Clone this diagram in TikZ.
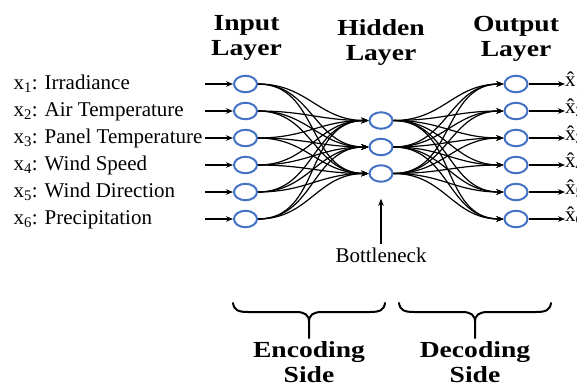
\documentclass[tikz,border=0pt]{standalone}
\usepackage{fontspec}
\setmainfont{Liberation Serif}
\newfontfamily\headfont{Liberation Serif}[FakeStretch=1.2]
\usepackage{tikz}
\usetikzlibrary{shapes.geometric,arrows.meta}
\definecolor{nodeblue}{RGB}{68,114,196}

\begin{document}
\begin{tikzpicture}[x=1pt,y=-1pt,
    neuron/.style={ellipse,draw=nodeblue,line width=2pt,minimum width=23pt,minimum height=16.5pt,inner sep=0pt},
    link/.style={line width=1.2pt,-{Stealth[length=7pt,width=5.5pt]}},
    head/.style={anchor=base,align=center,font=\headfont\bfseries\fontsize{23}{25}\selectfont},
    txt/.style={font=\fontsize{21}{24}\selectfont}]
    \useasboundingbox (0,0) rectangle (577,384);

    \foreach \y [count=\i] in {84,111,138,165,192,219}{
        \node[neuron] (in\i) at (245.5,\y) {};
        \node[neuron] (out\i) at (516,\y) {};
        \coordinate (src\i) at (205,\y);
        \node[txt,anchor=west,inner sep=0pt] (xhat\i) at (565,\y-3) {\^{x}\textsubscript{\i}};
        \draw[link] (src\i) -- (in\i);
        \draw[link] (out\i.east) -- (out\i.east -| xhat\i.west);
    }
    \node[txt,anchor=base west] (lab1) at (10,89) {x\textsubscript{1}: Irradiance};
    \node[txt,anchor=base west] (lab2) at (10,116) {x\textsubscript{2}: Air Temperature};
    \node[txt,anchor=base west] (lab3) at (10,143) {x\textsubscript{3}: Panel Temperature};
    \node[txt,anchor=base west] (lab4) at (10,170) {x\textsubscript{4}: Wind Speed};
    \node[txt,anchor=base west] (lab5) at (10,197) {x\textsubscript{5}: Wind Direction};
    \node[txt,anchor=base west] (lab6) at (10,224) {x\textsubscript{6}: Precipitation};

    \foreach \y [count=\j] in {120.5,147,173.5}
        \node[neuron] (hid\j) at (381,\y) {};

    \foreach \i in {1,...,6}{
        \foreach \j in {1,2,3}{
            \draw[link] (in\i.east) to[out=0,in=180,looseness=1.1] (hid\j.west);
            \draw[link] (hid\j.east) to[out=0,in=180,looseness=1.1] (out\i.west);
        }
    }

    % anchor=base sits on the last line
    \node[head] (inhead) at (246.5,55) {Input\\Layer};
    \node[head] (hidhead) at (381,60) {Hidden\\Layer};
    \node[head] (outhead) at (516,56) {Output\\Layer};

    \node[txt,anchor=base] (neck) at (381,262) {Bottleneck};
    \draw[link,shorten >=16pt] (neck.north) -- (hid3.south);

    \foreach \a/\b in {233/385,399/551}{
        \pgfmathsetmacro{\m}{(\a+\b)/2}
        \draw[line width=2pt,line cap=round,line join=round]
            (\a,303) .. controls (\a+1,310) and (\a+5,312) .. (\a+15,312) -- (\m-13,312)
            .. controls (\m-4,312) and (\m,315) .. (\m,322) -- (\m,338);
        \draw[line width=2pt,line cap=round,line join=round]
            (\b,303) .. controls (\b-1,310) and (\b-5,312) .. (\b-15,312) -- (\m+13,312)
            .. controls (\m+4,312) and (\m,315) .. (\m,322);
    }
    \node[head] (enc) at (309,382) {Encoding\\Side};
    \node[head] (dec) at (475,382) {Decoding\\Side};
\end{tikzpicture}
\end{document}
